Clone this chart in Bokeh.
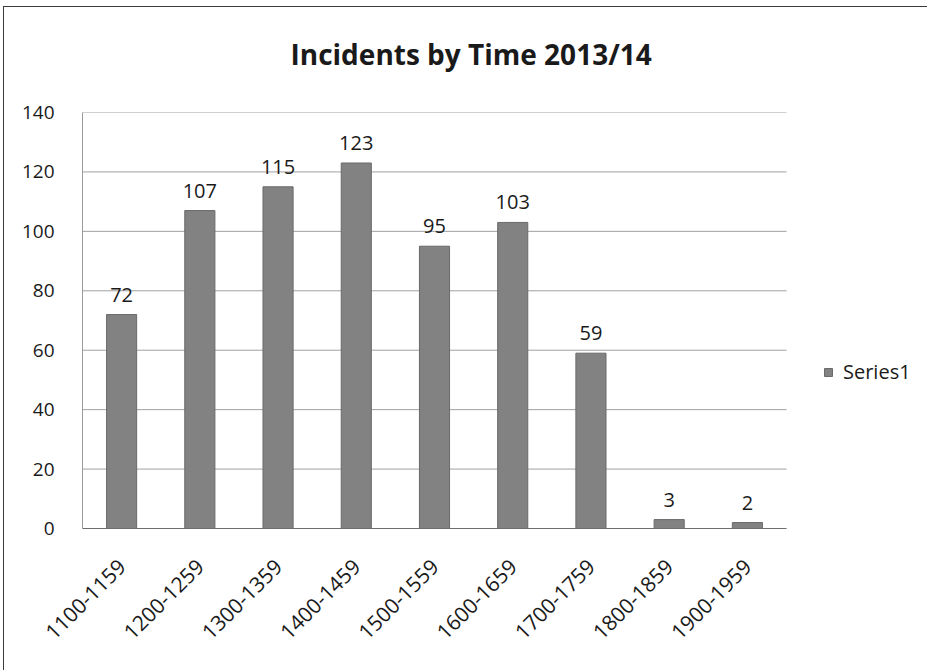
import math

from bokeh.core.properties import value
from bokeh.embed import file_html
from bokeh.models import (ColumnDataSource, FixedTicker, Legend, LegendItem,
                          Range1d, Title)
from bokeh.plotting import figure
from bokeh.resources import INLINE

# Incident counts per hourly band
time_bands = ["1100-1159", "1200-1259", "1300-1359", "1400-1459", "1500-1559",
              "1600-1659", "1700-1759", "1800-1859", "1900-1959"]
incidents = [72, 107, 115, 123, 95, 103, 59, 3, 2]
y_ticks = [0, 20, 40, 60, 80, 100, 120, 140]
series_name = "Series1"
chart_title = "Incidents by Time 2013/14"

FONT = "Open Sans"
TEXT = "#1a1a1a"

# layout: the category area is 704 px wide, the frame continues to the
# right edge so the legend can sit inside it
W, H = 924, 664
LEFT, TOP, BOTTOM = 78, 105, 143
CAT_PX = 704
n = len(time_bands)
frame_w = W - LEFT
x_end = n * frame_w / CAT_PX

centers = [i + 0.5 for i in range(n)]
src = ColumnDataSource(dict(
    x=centers,
    count=incidents,
    label=[str(v) for v in incidents],
))

p = figure(
    x_range=Range1d(0, x_end),
    y_range=Range1d(0, 140),
    width=W, height=H,
    min_border_left=LEFT, min_border_right=0,
    min_border_top=TOP, min_border_bottom=BOTTOM,
    output_backend="svg", toolbar_location=None,
)
# thin frame round the whole chart (left and top edges)
p.styles = {
    "margin-left": "3px", "margin-top": "6px",
    "border-left": "1px solid #3a3a3a", "border-top": "1px solid #3a3a3a",
}
p.background_fill_color = "white"
p.border_fill_color = "white"
p.outline_line_color = None
p.grid.visible = False

# horizontal gridlines across the category area only
grid_src = ColumnDataSource(dict(y=y_ticks))
p.segment(x0=0, x1=n, y0="y", y1="y", source=grid_src,
          line_color="#a0a0a0", line_width=1)

bars = p.vbar(x="x", top="count", width=0.385, source=src,
              fill_color="#828282", line_color="#6a6a6a", line_width=1)

# value labels above each bar
p.text(x="x", y="count", text="label", source=src,
       text_align="center", text_baseline="alphabetic", y_offset=-20,
       text_font=value(FONT), text_font_size="20px", text_color=TEXT)

# heading
p.title.text = chart_title
p.title.align = "left"
p.title.offset = 208
p.title.standoff = 10
p.title.text_font = FONT
p.title.text_font_style = "bold"
p.title.text_font_size = "28px"
p.title.text_color = TEXT

# blank strip between the heading and the plot area
p.add_layout(Title(text=" ", text_font_size="8px", standoff=24), "above")

# value axis
p.yaxis.ticker = FixedTicker(ticks=y_ticks)
p.yaxis.major_label_text_font = FONT
p.yaxis.major_label_text_font_size = "19px"
p.yaxis.major_label_text_color = TEXT
p.yaxis.major_label_standoff = 22
p.yaxis.major_tick_line_color = None
p.yaxis.minor_tick_line_color = None
p.yaxis.axis_line_color = "#9a9a9a"

# category axis
p.xaxis.ticker = FixedTicker(ticks=centers)
p.xaxis.major_label_overrides = {c: b for c, b in zip(centers, time_bands)}
p.xaxis.bounds = (0, n)
p.xaxis.major_label_orientation = math.pi / 4
p.xaxis.major_label_text_font = FONT
p.xaxis.major_label_text_font_size = "21px"
p.xaxis.major_label_text_color = TEXT
p.xaxis.major_label_standoff = 28
p.xaxis.major_tick_line_color = None
p.xaxis.minor_tick_line_color = None
p.xaxis.axis_line_color = "#6e6e6e"

legend = Legend(
    items=[LegendItem(label=series_name, renderers=[bars])],
    location=(741, 143),
    glyph_width=10, glyph_height=10, label_height=20,
    label_standoff=10, padding=0, margin=0, spacing=0,
    border_line_color=None, background_fill_alpha=0,
    label_text_font=FONT, label_text_font_size="20px", label_text_color=TEXT,
)
p.add_layout(legend)

open("out.html", "w").write(file_html(p, INLINE))
